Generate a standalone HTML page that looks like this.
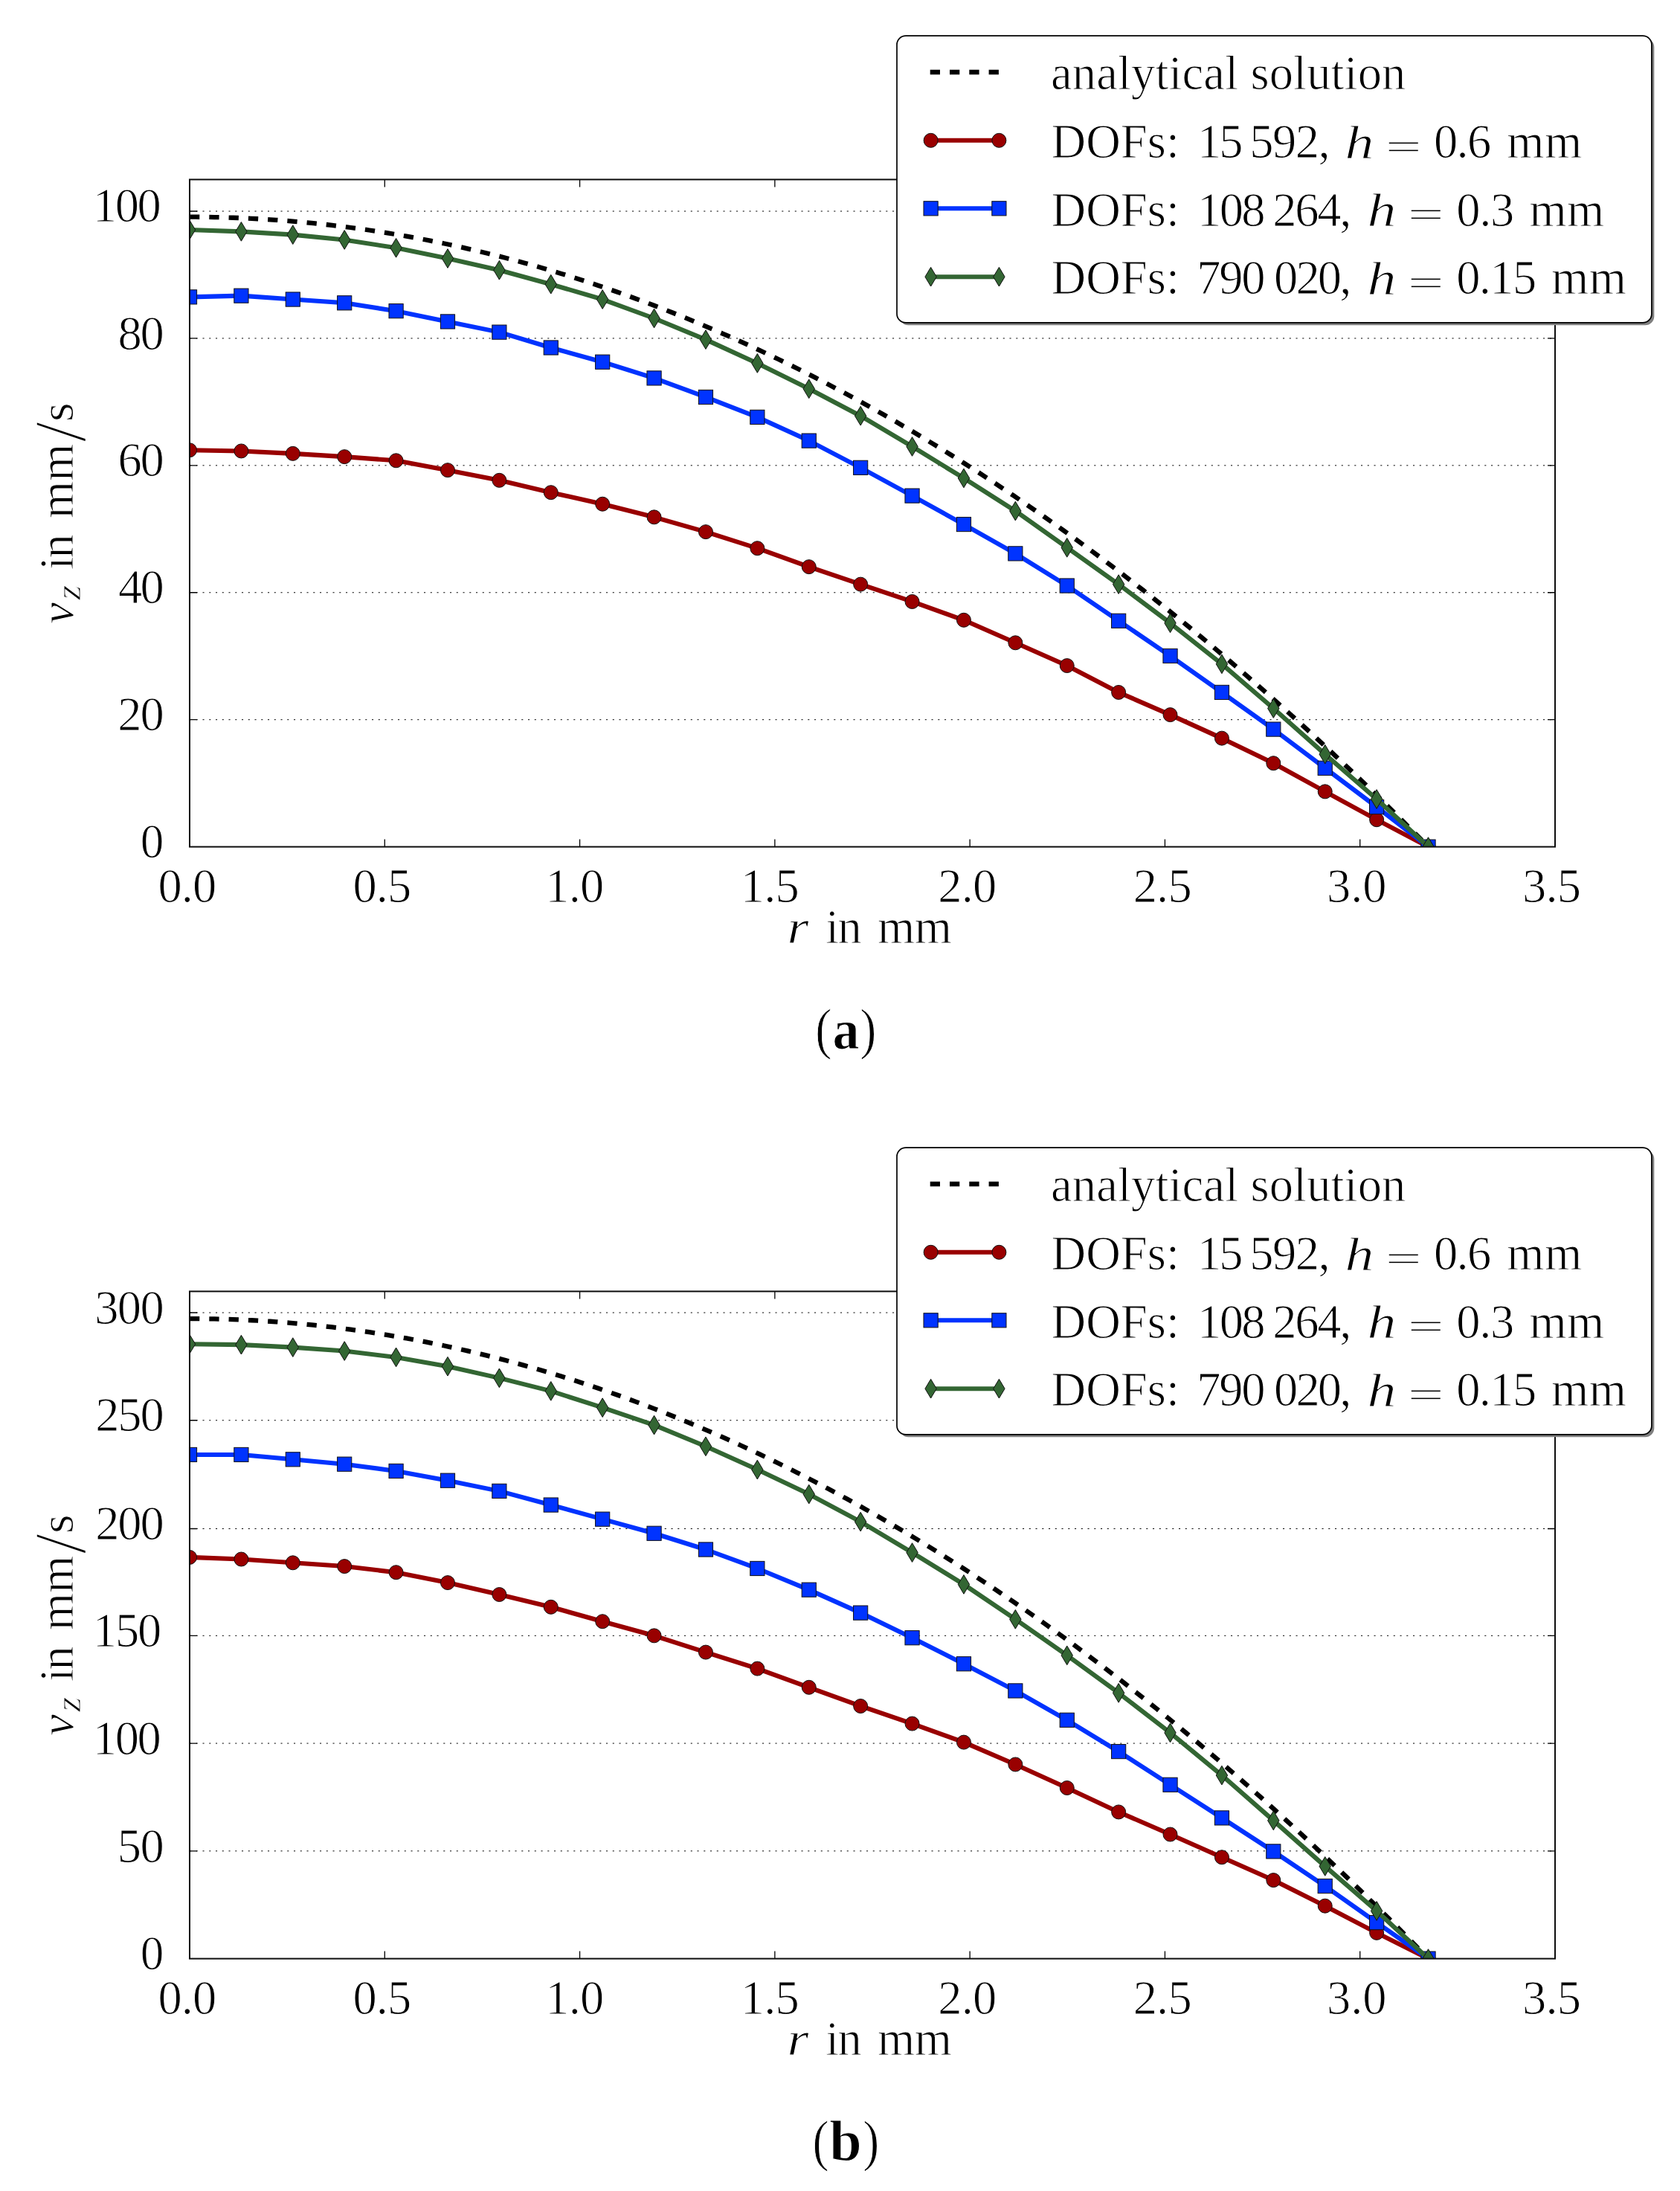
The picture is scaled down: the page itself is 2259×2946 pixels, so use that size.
<!DOCTYPE html>
<html lang="en"><head><meta charset="utf-8"><title>Velocity profiles</title>
<style>html,body{margin:0;padding:0;background:#fff}svg{display:block}text{font-family:"Liberation Serif",serif;fill:#000;white-space:pre;stroke:#fff;stroke-width:1px}</style></head>
<body>
<svg width="2259" height="2946" viewBox="0 0 2259 2946">
<defs><clipPath id="axclip"><rect x="255" y="241.4" width="1836" height="897.2"/></clipPath></defs>
<rect width="2259" height="2946" fill="#fff"/>
<g transform="translate(0 0)">
<path d="M255 967.68H2091" stroke="#000" stroke-width="1" stroke-dasharray="2.1 6.65" fill="none"/>
<path d="M255 796.76H2091" stroke="#000" stroke-width="1" stroke-dasharray="2.1 6.65" fill="none"/>
<path d="M255 625.84H2091" stroke="#000" stroke-width="1" stroke-dasharray="2.1 6.65" fill="none"/>
<path d="M255 454.92H2091" stroke="#000" stroke-width="1" stroke-dasharray="2.1 6.65" fill="none"/>
<path d="M255 284H2091" stroke="#000" stroke-width="1" stroke-dasharray="2.1 6.65" fill="none"/>
<g clip-path="url(#axclip)">
<path d="M255 291.69L263.33 291.71L271.66 291.78L279.98 291.88L288.31 292.03L296.64 292.22L304.97 292.45L313.29 292.73L321.62 293.05L329.95 293.41L338.28 293.81L346.6 294.25L354.93 294.74L363.26 295.27L371.59 295.84L379.91 296.46L388.24 297.11L396.57 297.81L404.9 298.55L413.22 299.33L421.55 300.16L429.88 301.03L438.21 301.94L446.53 302.89L454.86 303.89L463.19 304.92L471.52 306L479.84 307.13L488.17 308.29L496.5 309.5L504.83 310.75L513.15 312.04L521.48 313.37L529.81 314.75L538.14 316.17L546.47 317.63L554.79 319.13L563.12 320.68L571.45 322.26L579.78 323.9L588.1 325.57L596.43 327.28L604.76 329.04L613.09 330.84L621.41 332.68L629.74 334.57L638.07 336.49L646.4 338.46L654.72 340.47L663.05 342.53L671.38 344.62L679.71 346.76L688.03 348.94L696.36 351.17L704.69 353.43L713.02 355.74L721.34 358.09L729.67 360.48L738 362.92L746.33 365.39L754.65 367.91L762.98 370.48L771.31 373.08L779.64 375.73L787.96 378.41L796.29 381.15L804.62 383.92L812.95 386.74L821.27 389.59L829.6 392.49L837.93 395.44L846.26 398.42L854.59 401.45L862.91 404.52L871.24 407.63L879.57 410.79L887.9 413.99L896.22 417.22L904.55 420.51L912.88 423.83L921.21 427.2L929.53 430.61L937.86 434.06L946.19 437.55L954.52 441.09L962.84 444.66L971.17 448.28L979.5 451.95L987.83 455.65L996.15 459.4L1004.48 463.19L1012.81 467.02L1021.14 470.9L1029.46 474.81L1037.79 478.77L1046.12 482.78L1054.45 486.82L1062.77 490.91L1071.1 495.03L1079.43 499.21L1087.76 503.42L1096.08 507.67L1104.41 511.97L1112.74 516.31L1121.07 520.7L1129.39 525.12L1137.72 529.59L1146.05 534.1L1154.38 538.65L1162.71 543.24L1171.03 547.88L1179.36 552.56L1187.69 557.28L1196.02 562.05L1204.34 566.85L1212.67 571.7L1221 576.59L1229.33 581.52L1237.65 586.5L1245.98 591.52L1254.31 596.58L1262.64 601.68L1270.96 606.83L1279.29 612.01L1287.62 617.24L1295.95 622.52L1304.27 627.83L1312.6 633.19L1320.93 638.59L1329.26 644.03L1337.58 649.51L1345.91 655.04L1354.24 660.6L1362.57 666.22L1370.89 671.87L1379.22 677.56L1387.55 683.3L1395.88 689.08L1404.2 694.9L1412.53 700.77L1420.86 706.68L1429.19 712.63L1437.52 718.62L1445.84 724.65L1454.17 730.73L1462.5 736.85L1470.83 743.01L1479.15 749.21L1487.48 755.46L1495.81 761.75L1504.14 768.08L1512.46 774.45L1520.79 780.87L1529.12 787.32L1537.45 793.82L1545.77 800.37L1554.1 806.95L1562.43 813.58L1570.76 820.25L1579.08 826.96L1587.41 833.71L1595.74 840.51L1604.07 847.35L1612.39 854.23L1620.72 861.15L1629.05 868.12L1637.38 875.13L1645.7 882.18L1654.03 889.27L1662.36 896.41L1670.69 903.58L1679.01 910.8L1687.34 918.07L1695.67 925.37L1704 932.72L1712.33 940.11L1720.65 947.54L1728.98 955.01L1737.31 962.53L1745.64 970.09L1753.96 977.69L1762.29 985.33L1770.62 993.02L1778.95 1000.74L1787.27 1008.51L1795.6 1016.33L1803.93 1024.18L1812.26 1032.08L1820.58 1040.02L1828.91 1048L1837.24 1056.03L1845.57 1064.09L1853.89 1072.2L1862.22 1080.35L1870.55 1088.55L1878.88 1096.78L1887.2 1105.06L1895.53 1113.38L1903.86 1121.75L1912.19 1130.15L1920.51 1138.6" fill="none" stroke="#000" stroke-width="6.3" stroke-dasharray="13.3 13"/>
<path d="M255 605.24L324.4 606.44L393.79 609.86L463.19 614.13L532.59 619.26L601.98 632.16L671.38 645.84L740.77 662.16L810.17 677.71L879.57 695.32L948.96 715.15L1018.36 737.19L1087.76 762.15L1157.15 785.65L1226.55 808.98L1295.95 833.76L1365.34 864.27L1434.74 895.04L1504.14 930.93L1573.53 961.1L1642.93 992.63L1712.32 1026.22L1781.72 1064.34L1851.12 1102.19L1920.51 1138.6" fill="none" stroke="#990000" stroke-width="6.1" stroke-linejoin="round"/>
<circle cx="255" cy="605.24" r="9.5" fill="#990000" stroke="#111" stroke-width="1"/>
<circle cx="324.4" cy="606.44" r="9.5" fill="#990000" stroke="#111" stroke-width="1"/>
<circle cx="393.79" cy="609.86" r="9.5" fill="#990000" stroke="#111" stroke-width="1"/>
<circle cx="463.19" cy="614.13" r="9.5" fill="#990000" stroke="#111" stroke-width="1"/>
<circle cx="532.59" cy="619.26" r="9.5" fill="#990000" stroke="#111" stroke-width="1"/>
<circle cx="601.98" cy="632.16" r="9.5" fill="#990000" stroke="#111" stroke-width="1"/>
<circle cx="671.38" cy="645.84" r="9.5" fill="#990000" stroke="#111" stroke-width="1"/>
<circle cx="740.77" cy="662.16" r="9.5" fill="#990000" stroke="#111" stroke-width="1"/>
<circle cx="810.17" cy="677.71" r="9.5" fill="#990000" stroke="#111" stroke-width="1"/>
<circle cx="879.57" cy="695.32" r="9.5" fill="#990000" stroke="#111" stroke-width="1"/>
<circle cx="948.96" cy="715.15" r="9.5" fill="#990000" stroke="#111" stroke-width="1"/>
<circle cx="1018.36" cy="737.19" r="9.5" fill="#990000" stroke="#111" stroke-width="1"/>
<circle cx="1087.76" cy="762.15" r="9.5" fill="#990000" stroke="#111" stroke-width="1"/>
<circle cx="1157.15" cy="785.65" r="9.5" fill="#990000" stroke="#111" stroke-width="1"/>
<circle cx="1226.55" cy="808.98" r="9.5" fill="#990000" stroke="#111" stroke-width="1"/>
<circle cx="1295.95" cy="833.76" r="9.5" fill="#990000" stroke="#111" stroke-width="1"/>
<circle cx="1365.34" cy="864.27" r="9.5" fill="#990000" stroke="#111" stroke-width="1"/>
<circle cx="1434.74" cy="895.04" r="9.5" fill="#990000" stroke="#111" stroke-width="1"/>
<circle cx="1504.14" cy="930.93" r="9.5" fill="#990000" stroke="#111" stroke-width="1"/>
<circle cx="1573.53" cy="961.1" r="9.5" fill="#990000" stroke="#111" stroke-width="1"/>
<circle cx="1642.93" cy="992.63" r="9.5" fill="#990000" stroke="#111" stroke-width="1"/>
<circle cx="1712.32" cy="1026.22" r="9.5" fill="#990000" stroke="#111" stroke-width="1"/>
<circle cx="1781.72" cy="1064.34" r="9.5" fill="#990000" stroke="#111" stroke-width="1"/>
<circle cx="1851.12" cy="1102.19" r="9.5" fill="#990000" stroke="#111" stroke-width="1"/>
<circle cx="1920.51" cy="1138.6" r="9.5" fill="#990000" stroke="#111" stroke-width="1"/>
<path d="M255 399.37L324.4 397.66L393.79 402.53L463.19 407.32L532.59 418.17L601.98 432.44L671.38 446.63L740.77 467.48L810.17 486.71L879.57 508.42L948.96 533.97L1018.36 560.89L1087.76 592.6L1157.15 628.83L1226.55 666.6L1295.95 705.06L1365.34 744.37L1434.74 787.53L1504.14 834.79L1573.53 881.96L1642.93 930.93L1712.32 980.58L1781.72 1032.8L1851.12 1085.02L1920.51 1138.6" fill="none" stroke="#0033ff" stroke-width="6.1" stroke-linejoin="round"/>
<rect x="245.4" y="389.77" width="19.2" height="19.2" fill="#0033ff" stroke="#111" stroke-width="1"/>
<rect x="314.8" y="388.06" width="19.2" height="19.2" fill="#0033ff" stroke="#111" stroke-width="1"/>
<rect x="384.19" y="392.93" width="19.2" height="19.2" fill="#0033ff" stroke="#111" stroke-width="1"/>
<rect x="453.59" y="397.72" width="19.2" height="19.2" fill="#0033ff" stroke="#111" stroke-width="1"/>
<rect x="522.99" y="408.57" width="19.2" height="19.2" fill="#0033ff" stroke="#111" stroke-width="1"/>
<rect x="592.38" y="422.84" width="19.2" height="19.2" fill="#0033ff" stroke="#111" stroke-width="1"/>
<rect x="661.78" y="437.03" width="19.2" height="19.2" fill="#0033ff" stroke="#111" stroke-width="1"/>
<rect x="731.17" y="457.88" width="19.2" height="19.2" fill="#0033ff" stroke="#111" stroke-width="1"/>
<rect x="800.57" y="477.11" width="19.2" height="19.2" fill="#0033ff" stroke="#111" stroke-width="1"/>
<rect x="869.97" y="498.82" width="19.2" height="19.2" fill="#0033ff" stroke="#111" stroke-width="1"/>
<rect x="939.36" y="524.37" width="19.2" height="19.2" fill="#0033ff" stroke="#111" stroke-width="1"/>
<rect x="1008.76" y="551.29" width="19.2" height="19.2" fill="#0033ff" stroke="#111" stroke-width="1"/>
<rect x="1078.16" y="583" width="19.2" height="19.2" fill="#0033ff" stroke="#111" stroke-width="1"/>
<rect x="1147.55" y="619.23" width="19.2" height="19.2" fill="#0033ff" stroke="#111" stroke-width="1"/>
<rect x="1216.95" y="657" width="19.2" height="19.2" fill="#0033ff" stroke="#111" stroke-width="1"/>
<rect x="1286.35" y="695.46" width="19.2" height="19.2" fill="#0033ff" stroke="#111" stroke-width="1"/>
<rect x="1355.74" y="734.77" width="19.2" height="19.2" fill="#0033ff" stroke="#111" stroke-width="1"/>
<rect x="1425.14" y="777.93" width="19.2" height="19.2" fill="#0033ff" stroke="#111" stroke-width="1"/>
<rect x="1494.54" y="825.19" width="19.2" height="19.2" fill="#0033ff" stroke="#111" stroke-width="1"/>
<rect x="1563.93" y="872.36" width="19.2" height="19.2" fill="#0033ff" stroke="#111" stroke-width="1"/>
<rect x="1633.33" y="921.33" width="19.2" height="19.2" fill="#0033ff" stroke="#111" stroke-width="1"/>
<rect x="1702.72" y="970.98" width="19.2" height="19.2" fill="#0033ff" stroke="#111" stroke-width="1"/>
<rect x="1772.12" y="1023.2" width="19.2" height="19.2" fill="#0033ff" stroke="#111" stroke-width="1"/>
<rect x="1841.52" y="1075.42" width="19.2" height="19.2" fill="#0033ff" stroke="#111" stroke-width="1"/>
<rect x="1910.91" y="1129" width="19.2" height="19.2" fill="#0033ff" stroke="#111" stroke-width="1"/>
<path d="M255 309.04L324.4 311.35L393.79 315.62L463.19 322.46L532.59 333.31L601.98 347.5L671.38 363.22L740.77 382.19L810.17 402.53L879.57 428L948.96 456.63L1018.36 488.42L1087.76 522.78L1157.15 559.18L1226.55 600.46L1295.95 642.93L1365.34 687.11L1434.74 736.34L1504.14 785.65L1573.53 837.78L1642.93 892.82L1712.32 952.47L1781.72 1014.17L1851.12 1074.5L1920.51 1138.6" fill="none" stroke="#336633" stroke-width="6.1" stroke-linejoin="round"/>
<path d="M255 296.2L262.7 309.04L255 321.87L247.3 309.04Z" fill="#336633" stroke="#111" stroke-width="1" stroke-linejoin="miter"/>
<path d="M324.4 298.51L332.1 311.35L324.4 324.18L316.7 311.35Z" fill="#336633" stroke="#111" stroke-width="1" stroke-linejoin="miter"/>
<path d="M393.79 302.79L401.49 315.62L393.79 328.46L386.09 315.62Z" fill="#336633" stroke="#111" stroke-width="1" stroke-linejoin="miter"/>
<path d="M463.19 309.62L470.89 322.46L463.19 335.29L455.49 322.46Z" fill="#336633" stroke="#111" stroke-width="1" stroke-linejoin="miter"/>
<path d="M532.59 320.48L540.29 333.31L532.59 346.15L524.88 333.31Z" fill="#336633" stroke="#111" stroke-width="1" stroke-linejoin="miter"/>
<path d="M601.98 334.66L609.68 347.5L601.98 360.33L594.28 347.5Z" fill="#336633" stroke="#111" stroke-width="1" stroke-linejoin="miter"/>
<path d="M671.38 350.39L679.08 363.22L671.38 376.06L663.68 363.22Z" fill="#336633" stroke="#111" stroke-width="1" stroke-linejoin="miter"/>
<path d="M740.77 369.36L748.48 382.19L740.77 395.03L733.07 382.19Z" fill="#336633" stroke="#111" stroke-width="1" stroke-linejoin="miter"/>
<path d="M810.17 389.7L817.87 402.53L810.17 415.37L802.47 402.53Z" fill="#336633" stroke="#111" stroke-width="1" stroke-linejoin="miter"/>
<path d="M879.57 415.17L887.27 428L879.57 440.84L871.87 428Z" fill="#336633" stroke="#111" stroke-width="1" stroke-linejoin="miter"/>
<path d="M948.96 443.79L956.67 456.63L948.96 469.46L941.26 456.63Z" fill="#336633" stroke="#111" stroke-width="1" stroke-linejoin="miter"/>
<path d="M1018.36 475.59L1026.06 488.42L1018.36 501.26L1010.66 488.42Z" fill="#336633" stroke="#111" stroke-width="1" stroke-linejoin="miter"/>
<path d="M1087.76 509.94L1095.46 522.78L1087.76 535.61L1080.06 522.78Z" fill="#336633" stroke="#111" stroke-width="1" stroke-linejoin="miter"/>
<path d="M1157.15 546.35L1164.85 559.18L1157.15 572.02L1149.45 559.18Z" fill="#336633" stroke="#111" stroke-width="1" stroke-linejoin="miter"/>
<path d="M1226.55 587.62L1234.25 600.46L1226.55 613.29L1218.85 600.46Z" fill="#336633" stroke="#111" stroke-width="1" stroke-linejoin="miter"/>
<path d="M1295.95 630.1L1303.65 642.93L1295.95 655.77L1288.25 642.93Z" fill="#336633" stroke="#111" stroke-width="1" stroke-linejoin="miter"/>
<path d="M1365.34 674.28L1373.04 687.11L1365.34 699.95L1357.64 687.11Z" fill="#336633" stroke="#111" stroke-width="1" stroke-linejoin="miter"/>
<path d="M1434.74 723.5L1442.44 736.34L1434.74 749.17L1427.04 736.34Z" fill="#336633" stroke="#111" stroke-width="1" stroke-linejoin="miter"/>
<path d="M1504.14 772.82L1511.84 785.65L1504.14 798.49L1496.43 785.65Z" fill="#336633" stroke="#111" stroke-width="1" stroke-linejoin="miter"/>
<path d="M1573.53 824.95L1581.23 837.78L1573.53 850.62L1565.83 837.78Z" fill="#336633" stroke="#111" stroke-width="1" stroke-linejoin="miter"/>
<path d="M1642.93 879.98L1650.63 892.82L1642.93 905.65L1635.23 892.82Z" fill="#336633" stroke="#111" stroke-width="1" stroke-linejoin="miter"/>
<path d="M1712.32 939.63L1720.03 952.47L1712.32 965.3L1704.62 952.47Z" fill="#336633" stroke="#111" stroke-width="1" stroke-linejoin="miter"/>
<path d="M1781.72 1001.34L1789.42 1014.17L1781.72 1027.01L1774.02 1014.17Z" fill="#336633" stroke="#111" stroke-width="1" stroke-linejoin="miter"/>
<path d="M1851.12 1061.67L1858.82 1074.5L1851.12 1087.34L1843.42 1074.5Z" fill="#336633" stroke="#111" stroke-width="1" stroke-linejoin="miter"/>
<path d="M1920.51 1125.76L1928.22 1138.6L1920.51 1151.44L1912.81 1138.6Z" fill="#336633" stroke="#111" stroke-width="1" stroke-linejoin="miter"/>
</g>
<path d="M517.29 1138.6v-10M517.29 241.4v10M779.57 1138.6v-10M779.57 241.4v10M1041.86 1138.6v-10M1041.86 241.4v10M1304.14 1138.6v-10M1304.14 241.4v10M1566.43 1138.6v-10M1566.43 241.4v10M1828.71 1138.6v-10M1828.71 241.4v10M255 967.68h10M2091 967.68h-10M255 796.76h10M2091 796.76h-10M255 625.84h10M2091 625.84h-10M255 454.92h10M2091 454.92h-10M255 284h10M2091 284h-10" stroke="#000" stroke-width="1.3" fill="none"/>
<rect x="255" y="241.4" width="1836" height="897.2" fill="none" stroke="#0d0d0d" stroke-width="2"/>
<rect x="1209.4" y="51.5" width="1014.9" height="385.8" rx="12" ry="12" fill="#808080"/>
<rect x="1206" y="48.1" width="1014.9" height="385.8" rx="12" ry="12" fill="#fff" stroke="#000" stroke-width="1.7"/>
<path d="M1250.7 97H1343.4" fill="none" stroke="#000" stroke-width="6.5" stroke-dasharray="13.3 13"/>
<path d="M1251.6 188.8H1343.4" fill="none" stroke="#990000" stroke-width="6.1"/>
<circle cx="1251.6" cy="188.8" r="9.5" fill="#990000" stroke="#111" stroke-width="1"/>
<circle cx="1343.4" cy="188.8" r="9.5" fill="#990000" stroke="#111" stroke-width="1"/>
<path d="M1251.6 280.3H1343.4" fill="none" stroke="#0033ff" stroke-width="6.1"/>
<rect x="1242" y="270.7" width="19.2" height="19.2" fill="#0033ff" stroke="#111" stroke-width="1"/>
<rect x="1333.8" y="270.7" width="19.2" height="19.2" fill="#0033ff" stroke="#111" stroke-width="1"/>
<path d="M1251.6 372.2H1343.4" fill="none" stroke="#336633" stroke-width="6.1"/>
<path d="M1251.6 359.36L1259.3 372.2L1251.6 385.04L1243.9 372.2Z" fill="#336633" stroke="#111" stroke-width="1" stroke-linejoin="miter"/>
<path d="M1343.4 359.36L1351.1 372.2L1343.4 385.04L1335.7 372.2Z" fill="#336633" stroke="#111" stroke-width="1" stroke-linejoin="miter"/>
</g>
<g transform="translate(0 1495)">
<path d="M255 993.83H2091" stroke="#000" stroke-width="1" stroke-dasharray="2.1 6.65" fill="none"/>
<path d="M255 849.07H2091" stroke="#000" stroke-width="1" stroke-dasharray="2.1 6.65" fill="none"/>
<path d="M255 704.3H2091" stroke="#000" stroke-width="1" stroke-dasharray="2.1 6.65" fill="none"/>
<path d="M255 560.5H2091" stroke="#000" stroke-width="1" stroke-dasharray="2.1 6.65" fill="none"/>
<path d="M255 414.77H2091" stroke="#000" stroke-width="1" stroke-dasharray="2.1 6.65" fill="none"/>
<path d="M255 270H2091" stroke="#000" stroke-width="1" stroke-dasharray="2.1 6.65" fill="none"/>
<g clip-path="url(#axclip)">
<path d="M255 278.11L263.33 278.13L271.66 278.19L279.98 278.3L288.31 278.45L296.64 278.64L304.97 278.88L313.29 279.16L321.62 279.48L329.95 279.85L338.28 280.26L346.6 280.71L354.93 281.2L363.26 281.74L371.59 282.32L379.91 282.95L388.24 283.61L396.57 284.32L404.9 285.08L413.22 285.87L421.55 286.71L429.88 287.59L438.21 288.52L446.53 289.49L454.86 290.5L463.19 291.55L471.52 292.65L479.84 293.79L488.17 294.97L496.5 296.2L504.83 297.47L513.15 298.78L521.48 300.14L529.81 301.53L538.14 302.98L546.47 304.46L554.79 305.99L563.12 307.56L571.45 309.17L579.78 310.83L588.1 312.53L596.43 314.27L604.76 316.05L613.09 317.88L621.41 319.75L629.74 321.67L638.07 323.63L646.4 325.63L654.72 327.67L663.05 329.76L671.38 331.89L679.71 334.06L688.03 336.28L696.36 338.54L704.69 340.84L713.02 343.18L721.34 345.57L729.67 348L738 350.47L746.33 352.99L754.65 355.55L762.98 358.15L771.31 360.8L779.64 363.49L787.96 366.22L796.29 369L804.62 371.81L812.95 374.68L821.27 377.58L829.6 380.53L837.93 383.52L846.26 386.55L854.59 389.63L862.91 392.75L871.24 395.91L879.57 399.11L887.9 402.36L896.22 405.65L904.55 408.99L912.88 412.37L921.21 415.79L929.53 419.25L937.86 422.76L946.19 426.31L954.52 429.9L962.84 433.53L971.17 437.21L979.5 440.93L987.83 444.7L996.15 448.51L1004.48 452.36L1012.81 456.25L1021.14 460.19L1029.46 464.17L1037.79 468.19L1046.12 472.26L1054.45 476.36L1062.77 480.52L1071.1 484.71L1079.43 488.95L1087.76 493.23L1096.08 497.55L1104.41 501.92L1112.74 506.33L1121.07 510.78L1129.39 515.28L1137.72 519.82L1146.05 524.4L1154.38 529.03L1162.71 533.69L1171.03 538.41L1179.36 543.16L1187.69 547.96L1196.02 552.8L1204.34 557.68L1212.67 562.61L1221 567.58L1229.33 572.59L1237.65 577.64L1245.98 582.74L1254.31 587.88L1262.64 593.07L1270.96 598.3L1279.29 603.57L1287.62 608.88L1295.95 614.24L1304.27 619.64L1312.6 625.08L1320.93 630.56L1329.26 636.09L1337.58 641.67L1345.91 647.28L1354.24 652.94L1362.57 658.64L1370.89 664.38L1379.22 670.17L1387.55 676L1395.88 681.87L1404.2 687.79L1412.53 693.75L1420.86 699.75L1429.19 705.79L1437.52 711.88L1445.84 718.01L1454.17 724.19L1462.5 730.4L1470.83 736.66L1479.15 742.97L1487.48 749.31L1495.81 755.7L1504.14 762.13L1512.46 768.61L1520.79 775.13L1529.12 781.69L1537.45 788.29L1545.77 794.94L1554.1 801.63L1562.43 808.36L1570.76 815.14L1579.08 821.96L1587.41 828.82L1595.74 835.73L1604.07 842.68L1612.39 849.67L1620.72 856.7L1629.05 863.78L1637.38 870.9L1645.7 878.06L1654.03 885.27L1662.36 892.52L1670.69 899.81L1679.01 907.15L1687.34 914.53L1695.67 921.95L1704 929.41L1712.33 936.92L1720.65 944.47L1728.98 952.07L1737.31 959.7L1745.64 967.38L1753.96 975.11L1762.29 982.87L1770.62 990.68L1778.95 998.53L1787.27 1006.43L1795.6 1014.37L1803.93 1022.35L1812.26 1030.37L1820.58 1038.44L1828.91 1046.55L1837.24 1054.7L1845.57 1062.9L1853.89 1071.14L1862.22 1079.42L1870.55 1087.74L1878.88 1096.11L1887.2 1104.52L1895.53 1112.98L1903.86 1121.48L1912.19 1130.02L1920.51 1138.6" fill="none" stroke="#000" stroke-width="6.3" stroke-dasharray="13.3 13"/>
<path d="M255 598.91L324.4 601.52L393.79 606.29L463.19 611.07L532.59 619.18L601.98 633.07L671.38 649L740.77 665.79L810.17 685.19L879.57 704.3L948.96 726.59L1018.36 748.6L1087.76 773.79L1157.15 798.98L1226.55 822.57L1295.95 847.62L1365.34 877.44L1434.74 909L1504.14 941.43L1573.53 971.54L1642.93 1002.23L1712.32 1033.07L1781.72 1067.66L1851.12 1103.86L1920.51 1138.6" fill="none" stroke="#990000" stroke-width="6.1" stroke-linejoin="round"/>
<circle cx="255" cy="598.91" r="9.5" fill="#990000" stroke="#111" stroke-width="1"/>
<circle cx="324.4" cy="601.52" r="9.5" fill="#990000" stroke="#111" stroke-width="1"/>
<circle cx="393.79" cy="606.29" r="9.5" fill="#990000" stroke="#111" stroke-width="1"/>
<circle cx="463.19" cy="611.07" r="9.5" fill="#990000" stroke="#111" stroke-width="1"/>
<circle cx="532.59" cy="619.18" r="9.5" fill="#990000" stroke="#111" stroke-width="1"/>
<circle cx="601.98" cy="633.07" r="9.5" fill="#990000" stroke="#111" stroke-width="1"/>
<circle cx="671.38" cy="649" r="9.5" fill="#990000" stroke="#111" stroke-width="1"/>
<circle cx="740.77" cy="665.79" r="9.5" fill="#990000" stroke="#111" stroke-width="1"/>
<circle cx="810.17" cy="685.19" r="9.5" fill="#990000" stroke="#111" stroke-width="1"/>
<circle cx="879.57" cy="704.3" r="9.5" fill="#990000" stroke="#111" stroke-width="1"/>
<circle cx="948.96" cy="726.59" r="9.5" fill="#990000" stroke="#111" stroke-width="1"/>
<circle cx="1018.36" cy="748.6" r="9.5" fill="#990000" stroke="#111" stroke-width="1"/>
<circle cx="1087.76" cy="773.79" r="9.5" fill="#990000" stroke="#111" stroke-width="1"/>
<circle cx="1157.15" cy="798.98" r="9.5" fill="#990000" stroke="#111" stroke-width="1"/>
<circle cx="1226.55" cy="822.57" r="9.5" fill="#990000" stroke="#111" stroke-width="1"/>
<circle cx="1295.95" cy="847.62" r="9.5" fill="#990000" stroke="#111" stroke-width="1"/>
<circle cx="1365.34" cy="877.44" r="9.5" fill="#990000" stroke="#111" stroke-width="1"/>
<circle cx="1434.74" cy="909" r="9.5" fill="#990000" stroke="#111" stroke-width="1"/>
<circle cx="1504.14" cy="941.43" r="9.5" fill="#990000" stroke="#111" stroke-width="1"/>
<circle cx="1573.53" cy="971.54" r="9.5" fill="#990000" stroke="#111" stroke-width="1"/>
<circle cx="1642.93" cy="1002.23" r="9.5" fill="#990000" stroke="#111" stroke-width="1"/>
<circle cx="1712.32" cy="1033.07" r="9.5" fill="#990000" stroke="#111" stroke-width="1"/>
<circle cx="1781.72" cy="1067.66" r="9.5" fill="#990000" stroke="#111" stroke-width="1"/>
<circle cx="1851.12" cy="1103.86" r="9.5" fill="#990000" stroke="#111" stroke-width="1"/>
<circle cx="1920.51" cy="1138.6" r="9.5" fill="#990000" stroke="#111" stroke-width="1"/>
<path d="M255 460.95L324.4 460.95L393.79 467.32L463.19 473.69L532.59 482.95L601.98 495.69L671.38 509.88L740.77 528.55L810.17 547.66L879.57 566.77L948.96 588.49L1018.36 613.97L1087.76 642.63L1157.15 673.61L1226.55 707.2L1295.95 742.23L1365.34 778.42L1434.74 817.8L1504.14 860.07L1573.53 904.8L1642.93 949.39L1712.32 994.41L1781.72 1041.03L1851.12 1090.1L1920.51 1138.6" fill="none" stroke="#0033ff" stroke-width="6.1" stroke-linejoin="round"/>
<rect x="245.4" y="451.35" width="19.2" height="19.2" fill="#0033ff" stroke="#111" stroke-width="1"/>
<rect x="314.8" y="451.35" width="19.2" height="19.2" fill="#0033ff" stroke="#111" stroke-width="1"/>
<rect x="384.19" y="457.72" width="19.2" height="19.2" fill="#0033ff" stroke="#111" stroke-width="1"/>
<rect x="453.59" y="464.09" width="19.2" height="19.2" fill="#0033ff" stroke="#111" stroke-width="1"/>
<rect x="522.99" y="473.35" width="19.2" height="19.2" fill="#0033ff" stroke="#111" stroke-width="1"/>
<rect x="592.38" y="486.09" width="19.2" height="19.2" fill="#0033ff" stroke="#111" stroke-width="1"/>
<rect x="661.78" y="500.28" width="19.2" height="19.2" fill="#0033ff" stroke="#111" stroke-width="1"/>
<rect x="731.17" y="518.95" width="19.2" height="19.2" fill="#0033ff" stroke="#111" stroke-width="1"/>
<rect x="800.57" y="538.06" width="19.2" height="19.2" fill="#0033ff" stroke="#111" stroke-width="1"/>
<rect x="869.97" y="557.17" width="19.2" height="19.2" fill="#0033ff" stroke="#111" stroke-width="1"/>
<rect x="939.36" y="578.89" width="19.2" height="19.2" fill="#0033ff" stroke="#111" stroke-width="1"/>
<rect x="1008.76" y="604.37" width="19.2" height="19.2" fill="#0033ff" stroke="#111" stroke-width="1"/>
<rect x="1078.16" y="633.03" width="19.2" height="19.2" fill="#0033ff" stroke="#111" stroke-width="1"/>
<rect x="1147.55" y="664.01" width="19.2" height="19.2" fill="#0033ff" stroke="#111" stroke-width="1"/>
<rect x="1216.95" y="697.6" width="19.2" height="19.2" fill="#0033ff" stroke="#111" stroke-width="1"/>
<rect x="1286.35" y="732.63" width="19.2" height="19.2" fill="#0033ff" stroke="#111" stroke-width="1"/>
<rect x="1355.74" y="768.82" width="19.2" height="19.2" fill="#0033ff" stroke="#111" stroke-width="1"/>
<rect x="1425.14" y="808.2" width="19.2" height="19.2" fill="#0033ff" stroke="#111" stroke-width="1"/>
<rect x="1494.54" y="850.47" width="19.2" height="19.2" fill="#0033ff" stroke="#111" stroke-width="1"/>
<rect x="1563.93" y="895.2" width="19.2" height="19.2" fill="#0033ff" stroke="#111" stroke-width="1"/>
<rect x="1633.33" y="939.79" width="19.2" height="19.2" fill="#0033ff" stroke="#111" stroke-width="1"/>
<rect x="1702.72" y="984.81" width="19.2" height="19.2" fill="#0033ff" stroke="#111" stroke-width="1"/>
<rect x="1772.12" y="1031.43" width="19.2" height="19.2" fill="#0033ff" stroke="#111" stroke-width="1"/>
<rect x="1841.52" y="1080.5" width="19.2" height="19.2" fill="#0033ff" stroke="#111" stroke-width="1"/>
<rect x="1910.91" y="1129" width="19.2" height="19.2" fill="#0033ff" stroke="#111" stroke-width="1"/>
<path d="M255 312.27L324.4 313.14L393.79 316.61L463.19 321.54L532.59 329.93L601.98 342.24L671.38 357.87L740.77 375.39L810.17 397.68L879.57 421.14L948.96 449.8L1018.36 481.07L1087.76 514.08L1157.15 551.14L1226.55 592.54L1295.95 635.39L1365.34 682.3L1434.74 730.79L1504.14 781.32L1573.53 834.88L1642.93 892.06L1712.32 952.84L1781.72 1014.39L1851.12 1074.41L1920.51 1138.6" fill="none" stroke="#336633" stroke-width="6.1" stroke-linejoin="round"/>
<path d="M255 299.44L262.7 312.27L255 325.11L247.3 312.27Z" fill="#336633" stroke="#111" stroke-width="1" stroke-linejoin="miter"/>
<path d="M324.4 300.31L332.1 313.14L324.4 325.98L316.7 313.14Z" fill="#336633" stroke="#111" stroke-width="1" stroke-linejoin="miter"/>
<path d="M393.79 303.78L401.49 316.61L393.79 329.45L386.09 316.61Z" fill="#336633" stroke="#111" stroke-width="1" stroke-linejoin="miter"/>
<path d="M463.19 308.7L470.89 321.54L463.19 334.37L455.49 321.54Z" fill="#336633" stroke="#111" stroke-width="1" stroke-linejoin="miter"/>
<path d="M532.59 317.1L540.29 329.93L532.59 342.77L524.88 329.93Z" fill="#336633" stroke="#111" stroke-width="1" stroke-linejoin="miter"/>
<path d="M601.98 329.4L609.68 342.24L601.98 355.07L594.28 342.24Z" fill="#336633" stroke="#111" stroke-width="1" stroke-linejoin="miter"/>
<path d="M671.38 345.04L679.08 357.87L671.38 370.71L663.68 357.87Z" fill="#336633" stroke="#111" stroke-width="1" stroke-linejoin="miter"/>
<path d="M740.77 362.56L748.48 375.39L740.77 388.23L733.07 375.39Z" fill="#336633" stroke="#111" stroke-width="1" stroke-linejoin="miter"/>
<path d="M810.17 384.85L817.87 397.68L810.17 410.52L802.47 397.68Z" fill="#336633" stroke="#111" stroke-width="1" stroke-linejoin="miter"/>
<path d="M879.57 408.3L887.27 421.14L879.57 433.97L871.87 421.14Z" fill="#336633" stroke="#111" stroke-width="1" stroke-linejoin="miter"/>
<path d="M948.96 436.97L956.67 449.8L948.96 462.64L941.26 449.8Z" fill="#336633" stroke="#111" stroke-width="1" stroke-linejoin="miter"/>
<path d="M1018.36 468.23L1026.06 481.07L1018.36 493.9L1010.66 481.07Z" fill="#336633" stroke="#111" stroke-width="1" stroke-linejoin="miter"/>
<path d="M1087.76 501.24L1095.46 514.08L1087.76 526.91L1080.06 514.08Z" fill="#336633" stroke="#111" stroke-width="1" stroke-linejoin="miter"/>
<path d="M1157.15 538.3L1164.85 551.14L1157.15 563.97L1149.45 551.14Z" fill="#336633" stroke="#111" stroke-width="1" stroke-linejoin="miter"/>
<path d="M1226.55 579.71L1234.25 592.54L1226.55 605.38L1218.85 592.54Z" fill="#336633" stroke="#111" stroke-width="1" stroke-linejoin="miter"/>
<path d="M1295.95 622.56L1303.65 635.39L1295.95 648.23L1288.25 635.39Z" fill="#336633" stroke="#111" stroke-width="1" stroke-linejoin="miter"/>
<path d="M1365.34 669.46L1373.04 682.3L1365.34 695.13L1357.64 682.3Z" fill="#336633" stroke="#111" stroke-width="1" stroke-linejoin="miter"/>
<path d="M1434.74 717.96L1442.44 730.79L1434.74 743.63L1427.04 730.79Z" fill="#336633" stroke="#111" stroke-width="1" stroke-linejoin="miter"/>
<path d="M1504.14 768.48L1511.84 781.32L1504.14 794.15L1496.43 781.32Z" fill="#336633" stroke="#111" stroke-width="1" stroke-linejoin="miter"/>
<path d="M1573.53 822.04L1581.23 834.88L1573.53 847.71L1565.83 834.88Z" fill="#336633" stroke="#111" stroke-width="1" stroke-linejoin="miter"/>
<path d="M1642.93 879.23L1650.63 892.06L1642.93 904.9L1635.23 892.06Z" fill="#336633" stroke="#111" stroke-width="1" stroke-linejoin="miter"/>
<path d="M1712.32 940L1720.03 952.84L1712.32 965.67L1704.62 952.84Z" fill="#336633" stroke="#111" stroke-width="1" stroke-linejoin="miter"/>
<path d="M1781.72 1001.56L1789.42 1014.39L1781.72 1027.23L1774.02 1014.39Z" fill="#336633" stroke="#111" stroke-width="1" stroke-linejoin="miter"/>
<path d="M1851.12 1061.58L1858.82 1074.41L1851.12 1087.25L1843.42 1074.41Z" fill="#336633" stroke="#111" stroke-width="1" stroke-linejoin="miter"/>
<path d="M1920.51 1125.76L1928.22 1138.6L1920.51 1151.44L1912.81 1138.6Z" fill="#336633" stroke="#111" stroke-width="1" stroke-linejoin="miter"/>
</g>
<path d="M517.29 1138.6v-10M517.29 241.4v10M779.57 1138.6v-10M779.57 241.4v10M1041.86 1138.6v-10M1041.86 241.4v10M1304.14 1138.6v-10M1304.14 241.4v10M1566.43 1138.6v-10M1566.43 241.4v10M1828.71 1138.6v-10M1828.71 241.4v10M255 993.83h10M2091 993.83h-10M255 849.07h10M2091 849.07h-10M255 704.3h10M2091 704.3h-10M255 560.5h10M2091 560.5h-10M255 414.77h10M2091 414.77h-10M255 270h10M2091 270h-10" stroke="#000" stroke-width="1.3" fill="none"/>
<rect x="255" y="241.4" width="1836" height="897.2" fill="none" stroke="#0d0d0d" stroke-width="2"/>
<rect x="1209.4" y="51.5" width="1014.9" height="385.8" rx="12" ry="12" fill="#808080"/>
<rect x="1206" y="48.1" width="1014.9" height="385.8" rx="12" ry="12" fill="#fff" stroke="#000" stroke-width="1.7"/>
<path d="M1250.7 97H1343.4" fill="none" stroke="#000" stroke-width="6.5" stroke-dasharray="13.3 13"/>
<path d="M1251.6 188.8H1343.4" fill="none" stroke="#990000" stroke-width="6.1"/>
<circle cx="1251.6" cy="188.8" r="9.5" fill="#990000" stroke="#111" stroke-width="1"/>
<circle cx="1343.4" cy="188.8" r="9.5" fill="#990000" stroke="#111" stroke-width="1"/>
<path d="M1251.6 280.3H1343.4" fill="none" stroke="#0033ff" stroke-width="6.1"/>
<rect x="1242" y="270.7" width="19.2" height="19.2" fill="#0033ff" stroke="#111" stroke-width="1"/>
<rect x="1333.8" y="270.7" width="19.2" height="19.2" fill="#0033ff" stroke="#111" stroke-width="1"/>
<path d="M1251.6 372.2H1343.4" fill="none" stroke="#336633" stroke-width="6.1"/>
<path d="M1251.6 359.36L1259.3 372.2L1251.6 385.04L1243.9 372.2Z" fill="#336633" stroke="#111" stroke-width="1" stroke-linejoin="miter"/>
<path d="M1343.4 359.36L1351.1 372.2L1343.4 385.04L1335.7 372.2Z" fill="#336633" stroke="#111" stroke-width="1" stroke-linejoin="miter"/>
</g>
<text x="212.5" y="1212.8" font-size="64.5" letter-spacing="-0.89">0.0</text>
<text x="474.5" y="1212.8" font-size="64.5" letter-spacing="-0.94">0.5</text>
<text x="733.3" y="1212.8" font-size="64.5" letter-spacing="-0.79">1.0</text>
<text x="995.7" y="1212.8" font-size="64.5" letter-spacing="-0.79">1.5</text>
<text x="1261.2" y="1212.8" font-size="64.5" letter-spacing="-0.79">2.0</text>
<text x="1523.7" y="1212.8" font-size="64.5" letter-spacing="-0.84">2.5</text>
<text x="1784.1" y="1212.8" font-size="64.5" letter-spacing="-0.14">3.0</text>
<text x="2047" y="1212.8" font-size="64.5" letter-spacing="-0.79">3.5</text>
<text x="124.8" y="298.3" font-size="64.5" letter-spacing="-2.38">100</text>
<text x="158.4" y="469.6" font-size="64.5" letter-spacing="-2.25">80</text>
<text x="158.5" y="640.4" font-size="64.5" letter-spacing="-2.25">60</text>
<text x="159" y="811.3" font-size="64.5" letter-spacing="-2.85">40</text>
<text x="158.2" y="982.1" font-size="64.5" letter-spacing="-2.05">20</text>
<text transform="translate(188.65 1152.8) scale(0.9815 1.0000)" font-size="64.5">0</text>
<text transform="translate(1058.52 1268.09) scale(1.1522 0.9900)" font-size="64.5" font-style="italic">r</text>
<text x="1110.2" y="1267.7" font-size="64.5" letter-spacing="-1.72">in</text>
<text x="1179.9" y="1267.7" font-size="64.5" letter-spacing="-0.27">mm</text>
<text transform="translate(97.81 839.11) rotate(-90) scale(1.0107 0.9733)" font-size="64.5" font-style="italic">v</text>
<text transform="translate(107.82 806.84) rotate(-90) scale(1.1167 1.0450)" font-size="46.44" font-style="italic">z</text>
<text transform="translate(98.4 766.2) rotate(-90)" font-size="64.5" letter-spacing="-2.32">in</text>
<text transform="translate(98.4 697.1) rotate(-90)" font-size="64.5" letter-spacing="0.13">mm</text>
<text transform="translate(113.5 594.31) rotate(-90) scale(1.5125 1.5357)" font-size="64.5" stroke-width="2">/</text>
<text transform="translate(98.22 567.06) rotate(-90) scale(1.0250 0.9677)" font-size="64.5">s</text>
<text x="1413.1" y="120.3" font-size="64.5" letter-spacing="0.14">analytical solution</text>
<text x="1413.5" y="211.9" font-size="64.5" letter-spacing="0.09">DOFs:</text>
<text x="1610" y="211.9" font-size="64.5" letter-spacing="-3">15</text>
<text x="1680.25" y="211.9" font-size="64.5" letter-spacing="-1.5">592,</text>
<text transform="translate(1808.38 212.79) scale(1.2074 0.9889)" font-size="64.5" font-style="italic">h</text>
<text transform="translate(1862.79 213.82) scale(1.3464 0.7831)" font-size="64.5" stroke-width="0.4">=</text>
<text x="1927.9" y="211.9" font-size="64.5" letter-spacing="-1.59">0.6</text>
<text x="2026.2" y="211.9" font-size="64.5" letter-spacing="0.53">mm</text>
<text x="1413.5" y="303.5" font-size="64.5" letter-spacing="0.09">DOFs:</text>
<text x="1610" y="303.5" font-size="64.5" letter-spacing="-2.62">108</text>
<text x="1711.25" y="303.5" font-size="64.5" letter-spacing="-2.25">264,</text>
<text transform="translate(1838.38 304.39) scale(1.2074 0.9889)" font-size="64.5" font-style="italic">h</text>
<text transform="translate(1892.79 305.42) scale(1.3464 0.7831)" font-size="64.5" stroke-width="0.4">=</text>
<text x="1958.2" y="303.5" font-size="64.5" letter-spacing="-1.24">0.3</text>
<text x="2056.5" y="303.5" font-size="64.5" letter-spacing="0.33">mm</text>
<text x="1413.5" y="395.1" font-size="64.5" letter-spacing="0.09">DOFs:</text>
<text x="1609.25" y="395.1" font-size="64.5" letter-spacing="-2.25">790</text>
<text x="1713" y="395.1" font-size="64.5" letter-spacing="-2.83">020,</text>
<text transform="translate(1838.38 395.99) scale(1.2074 0.9889)" font-size="64.5" font-style="italic">h</text>
<text transform="translate(1892.79 397.02) scale(1.3464 0.7831)" font-size="64.5" stroke-width="0.4">=</text>
<text x="1958.2" y="395.1" font-size="64.5" letter-spacing="-1.64">0.15</text>
<text x="2086" y="395.1" font-size="64.5" letter-spacing="0.53">mm</text>
<text x="212.5" y="2707.8" font-size="64.5" letter-spacing="-0.89">0.0</text>
<text x="474.5" y="2707.8" font-size="64.5" letter-spacing="-0.94">0.5</text>
<text x="733.3" y="2707.8" font-size="64.5" letter-spacing="-0.79">1.0</text>
<text x="995.7" y="2707.8" font-size="64.5" letter-spacing="-0.79">1.5</text>
<text x="1261.2" y="2707.8" font-size="64.5" letter-spacing="-0.79">2.0</text>
<text x="1523.7" y="2707.8" font-size="64.5" letter-spacing="-0.84">2.5</text>
<text x="1784.1" y="2707.8" font-size="64.5" letter-spacing="-0.14">3.0</text>
<text x="2047" y="2707.8" font-size="64.5" letter-spacing="-0.79">3.5</text>
<text x="127.3" y="1779.7" font-size="64.5" letter-spacing="-1.7">300</text>
<text x="128.3" y="1924.2" font-size="64.5" letter-spacing="-2.2">250</text>
<text x="128.3" y="2069.6" font-size="64.5" letter-spacing="-2.2">200</text>
<text x="124.8" y="2214.1" font-size="64.5" letter-spacing="-2.1">150</text>
<text x="124.8" y="2358.7" font-size="64.5" letter-spacing="-2.38">100</text>
<text x="157.8" y="2503.6" font-size="64.5" letter-spacing="-1.65">50</text>
<text transform="translate(188.65 2647.8) scale(0.9815 1.0000)" font-size="64.5">0</text>
<text transform="translate(1058.52 2763.09) scale(1.1522 0.9900)" font-size="64.5" font-style="italic">r</text>
<text x="1110.2" y="2762.7" font-size="64.5" letter-spacing="-1.72">in</text>
<text x="1179.9" y="2762.7" font-size="64.5" letter-spacing="-0.27">mm</text>
<text transform="translate(97.81 2334.11) rotate(-90) scale(1.0107 0.9733)" font-size="64.5" font-style="italic">v</text>
<text transform="translate(107.82 2301.84) rotate(-90) scale(1.1167 1.0450)" font-size="46.44" font-style="italic">z</text>
<text transform="translate(98.4 2261.2) rotate(-90)" font-size="64.5" letter-spacing="-2.32">in</text>
<text transform="translate(98.4 2192.1) rotate(-90)" font-size="64.5" letter-spacing="0.13">mm</text>
<text transform="translate(113.5 2089.31) rotate(-90) scale(1.5125 1.5357)" font-size="64.5" stroke-width="2">/</text>
<text transform="translate(98.22 2062.06) rotate(-90) scale(1.0250 0.9677)" font-size="64.5">s</text>
<text x="1413.1" y="1615.3" font-size="64.5" letter-spacing="0.14">analytical solution</text>
<text x="1413.5" y="1706.9" font-size="64.5" letter-spacing="0.09">DOFs:</text>
<text x="1610" y="1706.9" font-size="64.5" letter-spacing="-3">15</text>
<text x="1680.25" y="1706.9" font-size="64.5" letter-spacing="-1.5">592,</text>
<text transform="translate(1808.38 1707.79) scale(1.2074 0.9889)" font-size="64.5" font-style="italic">h</text>
<text transform="translate(1862.79 1708.82) scale(1.3464 0.7831)" font-size="64.5" stroke-width="0.4">=</text>
<text x="1927.9" y="1706.9" font-size="64.5" letter-spacing="-1.59">0.6</text>
<text x="2026.2" y="1706.9" font-size="64.5" letter-spacing="0.53">mm</text>
<text x="1413.5" y="1798.5" font-size="64.5" letter-spacing="0.09">DOFs:</text>
<text x="1610" y="1798.5" font-size="64.5" letter-spacing="-2.62">108</text>
<text x="1711.25" y="1798.5" font-size="64.5" letter-spacing="-2.25">264,</text>
<text transform="translate(1838.38 1799.39) scale(1.2074 0.9889)" font-size="64.5" font-style="italic">h</text>
<text transform="translate(1892.79 1800.42) scale(1.3464 0.7831)" font-size="64.5" stroke-width="0.4">=</text>
<text x="1958.2" y="1798.5" font-size="64.5" letter-spacing="-1.24">0.3</text>
<text x="2056.5" y="1798.5" font-size="64.5" letter-spacing="0.33">mm</text>
<text x="1413.5" y="1890.1" font-size="64.5" letter-spacing="0.09">DOFs:</text>
<text x="1609.25" y="1890.1" font-size="64.5" letter-spacing="-2.25">790</text>
<text x="1713" y="1890.1" font-size="64.5" letter-spacing="-2.83">020,</text>
<text transform="translate(1838.38 1890.99) scale(1.2074 0.9889)" font-size="64.5" font-style="italic">h</text>
<text transform="translate(1892.79 1892.02) scale(1.3464 0.7831)" font-size="64.5" stroke-width="0.4">=</text>
<text x="1958.2" y="1890.1" font-size="64.5" letter-spacing="-1.64">0.15</text>
<text x="2086" y="1890.1" font-size="64.5" letter-spacing="0.53">mm</text>
<text transform="translate(1096.28 1409.09) scale(0.8297 0.9599)" font-size="80" stroke="#000" stroke-width="0.9">(</text>
<text transform="translate(1119.57 1410.48) scale(0.9727 1.0314)" font-size="74" font-weight="bold">a</text>
<text transform="translate(1156.31 1409.09) scale(0.8297 0.9599)" font-size="80" stroke="#000" stroke-width="0.9">)</text>
<text transform="translate(1092.4 2904.09) scale(0.8253 0.9599)" font-size="80" stroke="#000" stroke-width="0.9">(</text>
<text transform="translate(1115.37 2905.47) scale(1.0553 1.0596)" font-size="74" font-weight="bold">b</text>
<text transform="translate(1160.32 2904.09) scale(0.8253 0.9599)" font-size="80" stroke="#000" stroke-width="0.9">)</text>
</svg>
</body></html>
